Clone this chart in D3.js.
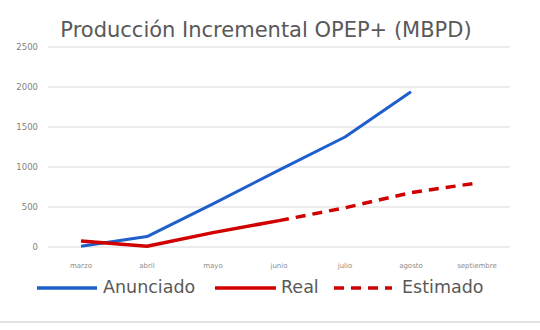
<!DOCTYPE html>
<html>
<head>
<meta charset="utf-8">
<script src="https://cdn.jsdelivr.net/npm/d3@7"></script>
<style>
  body { margin: 0; background: #fff; }
  svg { display: block; font-family: "DejaVu Sans", "Noto Sans", sans-serif; }
</style>
</head>
<body>
<div id="chart"></div>
<script>
// months on the x axis
const months = ["marzo", "abril", "mayo", "junio", "julio", "agosto", "septiembre"];
// announced incremental production (MBPD)
const anunciado = [10, 130, 540, 960, 1375, 1940, null];
// real production, solid part
const real = [75, 10, 180, 330, null, null, null];
// estimated, dashed continuation
const estimado = [null, null, null, 330, 490, 680, 800];
const yTicks = [0, 500, 1000, 1500, 2000, 2500];

const W = 540, H = 330;
const margin = { top: 47, right: 30, bottom: 83, left: 48 };

const svg = d3.select("#chart").append("svg")
  .attr("width", W)
  .attr("height", H);

// faint frame of the picture
svg.append("line")
  .attr("x1", 0).attr("x2", W)
  .attr("y1", 322).attr("y2", 322)
  .style("stroke", "#e4e4e4")
  .style("stroke-width", 2);

const x = d3.scaleBand()
  .domain(months)
  .range([margin.left, W - margin.right]);

const y = d3.scaleLinear()
  .domain([0, 2500])
  .range([H - margin.bottom, margin.top]);

// gridlines
svg.append("g")
  .selectAll("line")
  .data(yTicks)
  .enter().append("line")
  .attr("x1", margin.left)
  .attr("x2", W - margin.right)
  .attr("y1", d => y(d))
  .attr("y2", d => y(d))
  .style("stroke", "#d9d9d9")
  .style("stroke-width", 1);

// y labels
svg.append("g")
  .selectAll("text")
  .data(yTicks)
  .enter().append("text")
  .attr("x", 38)
  .attr("y", d => y(d))
  .attr("dy", "0.35em")
  .attr("text-anchor", "end")
  .style("font-size", "8.5px")
  .style("fill", "#7f7f7f")
  .text(d => d);

// x labels
svg.append("g")
  .selectAll("text")
  .data(months)
  .enter().append("text")
  .attr("x", d => x(d) + x.bandwidth() / 2)
  .attr("y", 266)
  .attr("dy", "0.35em")
  .attr("text-anchor", "middle")
  .style("font-size", "7px")
  .style("fill", "#8c8c8c")
  .text(d => d);

// title
svg.append("text")
  .attr("x", 266)
  .attr("y", 30)
  .attr("dy", "0.35em")
  .attr("text-anchor", "middle")
  .style("font-size", "21px")
  .style("fill", "#595959")
  .text("Producción Incremental OPEP+ (MBPD)");

const line = d3.line()
  .defined(d => d != null)
  .x((d, i) => x(months[i]) + x.bandwidth() / 2)
  .y(d => y(d));

svg.append("path")
  .attr("d", line(anunciado))
  .style("fill", "none")
  .style("stroke", "#1f5fcc")
  .style("stroke-width", 3)
  .style("stroke-linejoin", "round");

svg.append("path")
  .attr("d", line(real))
  .style("fill", "none")
  .style("stroke", "#d00000")
  .style("stroke-width", 3.5)
  .style("stroke-linejoin", "round");

svg.append("path")
  .attr("d", line(estimado))
  .style("fill", "none")
  .style("stroke", "#d00000")
  .style("stroke-width", 3.5)
  .style("stroke-dasharray", "10,7");

// legend
const legend = [
  { name: "Anunciado", color: "#1f5fcc", dash: null, x1: 37, x2: 97, tx: 103 },
  { name: "Real", color: "#d00000", dash: null, x1: 215, x2: 276, tx: 281 },
  { name: "Estimado", color: "#d00000", dash: "10,7", x1: 334, x2: 392, tx: 402 }
];

const lg = svg.append("g").selectAll("g")
  .data(legend)
  .enter().append("g");

lg.append("line")
  .attr("x1", d => d.x1)
  .attr("x2", d => d.x2)
  .attr("y1", 288).attr("y2", 288)
  .style("stroke", d => d.color)
  .style("stroke-width", 3.5)
  .style("stroke-dasharray", d => d.dash);

lg.append("text")
  .attr("x", d => d.tx)
  .attr("y", 287)
  .attr("dy", "0.35em")
  .style("font-size", "17.5px")
  .style("fill", "#595959")
  .text(d => d.name);
</script>
</body>
</html>
